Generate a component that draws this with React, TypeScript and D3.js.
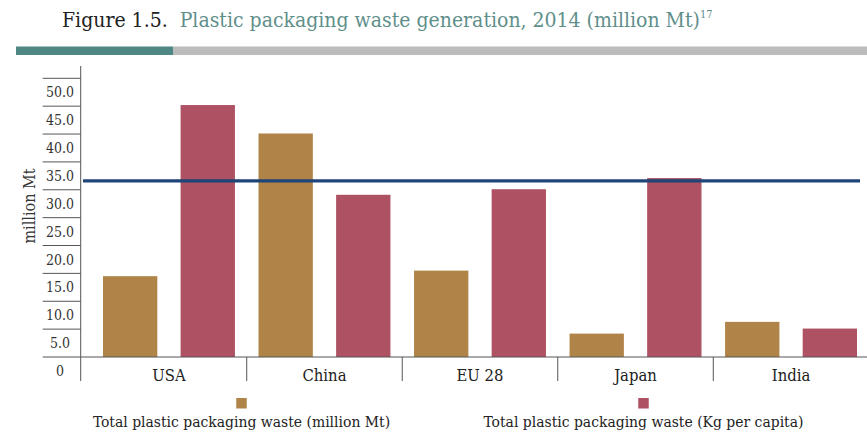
import React from "react";
import * as d3 from "d3";

const categories = ["USA", "China", "EU 28", "Japan", "India"];
const seriesNames = [
  "Total plastic packaging waste (million Mt)",
  "Total plastic packaging waste (Kg per capita)",
];
const wasteMillionMt = [14.5, 40.1, 15.5, 4.2, 6.3];
const wasteKgPerCapita = [45.2, 29.1, 30.1, 32.1, 5.1];
const referenceLine = [31.6];
const yTickValues = [0, 5, 10, 15, 20, 25, 30, 35, 40, 45, 50];
const yTickLabels = ["0", "5.0", "10.0", "15.0", "20.0", "25.0", "30.0", "35.0", "40.0", "45.0", "50.0"];

const W = 867;
const H = 435;
const GOLD = "#b08449";
const RED = "#ad5163";
const BLUE = "#1f4477";
const AXIS = "#555555";
const FONT = "'DejaVu Serif Condensed', 'DejaVu Serif', serif";

export default function App() {
  const y = d3.scaleLinear().domain([0, 50]).range([357, 78.3]);
  const x0 = d3.scaleBand<string>().domain(categories).range([91.2, 868.8]).paddingInner(0).paddingOuter(0);
  const x1 = d3
    .scaleBand<number>()
    .domain([0, 1])
    .range([0, x0.bandwidth()])
    .paddingInner(0.3)
    .paddingOuter(0.152);
  const series = [wasteMillionMt, wasteKgPerCapita];
  const colors = [GOLD, RED];
  const axisX = 80.7;
  const baseY = y(0);

  return (
    <svg
      width={W}
      height={H}
      style={{ position: "absolute", left: 0, top: 0, background: "#fff" }}
      fontFamily={FONT}
    >
      {/* Title */}
      <text x={62} y={27} fontSize={21} fontStretch="condensed" fill="#222">
        Figure 1.5.
        <tspan dx={12} fill="#5f8f8b">Plastic packaging waste generation, 2014 (million Mt)</tspan>
        <tspan fontSize={11} dy={-9} fill="#5f8f8b">17</tspan>
      </text>
      {/* Header bar */}
      <rect x={16} y={46.5} width={157} height={8.5} fill="#4f8784" />
      <rect x={173} y={46.5} width={W - 173} height={8.5} fill="#bcbcbc" />

      {/* Y-axis title */}
      <text
        transform={`translate(35,206) rotate(-90)`}
        textAnchor="middle"
        fontSize={16}
        fontStretch="condensed"
        fill="#333"
      >
        million Mt
      </text>

      {/* Y ticks */}
      {yTickValues.map((v, i) => (
        <g key={v}>
          <line x1={42.7} x2={axisX} y1={y(v)} y2={y(v)} stroke={AXIS} strokeWidth={1} />
          <text
            x={60}
            y={y(v) + 14}
            textAnchor="middle"
            dominantBaseline="central"
            fontSize={14}
            fontStretch="condensed"
            fill="#333"
          >
            {yTickLabels[i]}
          </text>
        </g>
      ))}

      {/* Bars */}
      {categories.map((c, ci) =>
        series.map((s, si) => (
          <rect
            key={`${c}-${si}`}
            x={(x0(c) as number) + (x1(si) as number)}
            y={y(s[ci])}
            width={x1.bandwidth()}
            height={baseY - y(s[ci])}
            fill={colors[si]}
          />
        ))
      )}

      {/* Axis lines */}
      <line x1={axisX} x2={axisX} y1={66} y2={381} stroke={AXIS} strokeWidth={1} />
      <line x1={axisX} x2={W} y1={baseY} y2={baseY} stroke={AXIS} strokeWidth={1} />
      {categories.slice(1).map((c) => (
        <line key={c} x1={x0(c)} x2={x0(c)} y1={baseY} y2={381} stroke={AXIS} strokeWidth={1} />
      ))}
      {categories.map((c) => (
        <text
          key={c}
          x={(x0(c) as number) + x0.bandwidth() / 2}
          y={381}
          textAnchor="middle"
          fontSize={16.5}
          fontStretch="condensed"
          fill="#222"
        >
          {c}
        </text>
      ))}

      {/* Reference line */}
      {referenceLine.map((v) => (
        <line key={v} x1={83} x2={860} y1={y(v)} y2={y(v)} stroke={BLUE} strokeWidth={3.3} />
      ))}

      {/* Legend */}
      {seriesNames.map((n, i) => {
        const cx = i === 0 ? 241.5 : 643.5;
        return (
          <g key={n}>
            <rect x={cx - 5.25} y={398} width={10.5} height={10.5} fill={colors[i]} />
            <text x={cx} y={426.5} textAnchor="middle" fontSize={15.5} fontStretch="condensed" fill="#222">
              {n}
            </text>
          </g>
        );
      })}
    </svg>
  );
}
